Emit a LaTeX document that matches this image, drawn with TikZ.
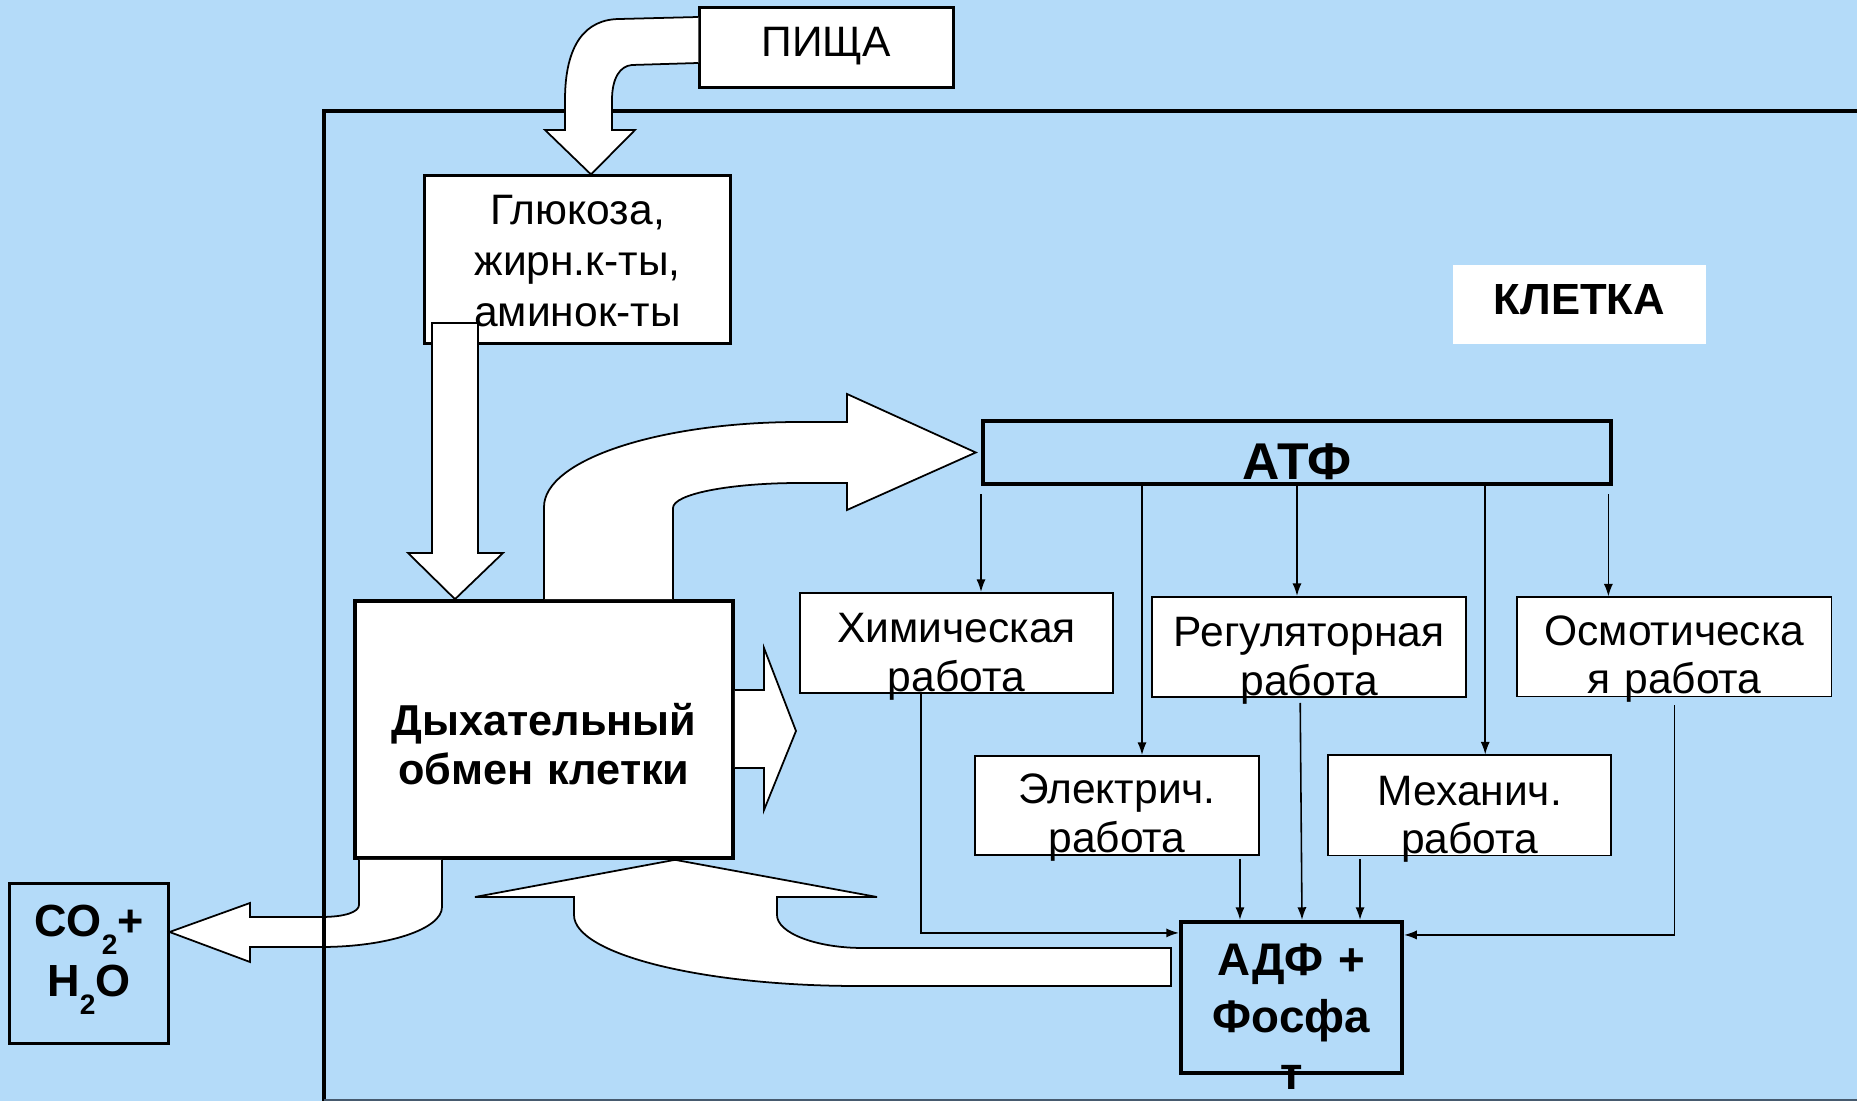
\documentclass[tikz,border=0pt]{standalone}
\usepackage{fontspec}
\setmainfont{Liberation Sans}
\usetikzlibrary{positioning, arrows.meta}

\definecolor{bgblue}{RGB}{180,219,249}
\definecolor{edgegray}{RGB}{70,90,110}
\newcommand{\chemidx}[1]{\raisebox{-0.4em}{\fontsize{8}{8}\selectfont #1}}

\begin{document}
\begin{tikzpicture}[x=0.01cm, y=-0.01cm, node distance=3.525cm, >={Latex[length=3.6pt,width=2.6pt]}]
            % Define block styles
            \tikzstyle{block} = [rectangle, draw, fill=white, inner sep=0pt, align=center, line width=0.85pt]
            \tikzstyle{plain} = [font=\fontsize{12.1}{14.5}\selectfont]
            \tikzstyle{heavy} = [font=\bfseries\fontsize{12.8}{16.2}\selectfont]
            \tikzstyle{workbox} = [block, plain, line width=0.55pt, font=\fontsize{12.1}{13.7}\selectfont, text height=0.5cm, text depth=0.5cm]
            \tikzstyle{bigarrow} = [draw, fill=white, line width=0.5pt]
            \tikzstyle{link} = [->, line width=0.45pt]

            \useasboundingbox[fill=bgblue] (0,0) rectangle (1857,1101);

            % Place nodes
            \node [block, plain, text width=2.53cm, text height=0.49cm, text depth=0.30cm] (food) at (826.5,47.5) {ПИЩА};
            \node [block, plain, text width=3.05cm, text height=0.49cm, text depth=1.18cm] (nutr) at (577.5,259.5) {Глюкоза,\\ жирн.к-ты,\\ аминок-ты};
            \node [block, line width=1pt, font=\bfseries\fontsize{12.3}{13.7}\selectfont, text width=3.78cm, text height=1.35cm, text depth=1.22cm] (resp) at (544,729.5) {Дыхательный\\ обмен клетки};
            \node [block, fill=none, line width=1.15pt, font=\bfseries\fontsize{14.7}{16}\selectfont, text width=6.28cm, text height=0.58cm, text depth=0.05cm] (atp) at (1297,452.5) {АТФ};
            \node [workbox, text width=3.13cm] (chem) at (956.5,643) {Химическая\\ работа};
            \node [workbox, text width=3.14cm, right of=chem, yshift=-0.04cm] (reg) {Регуляторная\\ работа};
            \node [workbox, text width=3.14cm, right of=reg, xshift=0.125cm, text height=0.48cm, text depth=0.51cm] (osm) {Осмотическа\\ я работа};
            \node [workbox, text width=2.84cm, text height=0.48cm, text depth=0.51cm] (elec) at (1117,805.5) {Электрич.\\ работа};
            \node [workbox, text width=2.83cm, right of=elec] (mech) {Механич.\\ работа};
            \node [block, heavy, fill=none, line width=1.15pt, font=\bfseries\fontsize{13}{16.2}\selectfont, text width=2.21cm, text height=0.54cm, text depth=0.97cm] (adp) at (1291.5,997.5) {АДФ +\\ Фосфа\\ т};
            \node [block, heavy, fill=none, font=\bfseries\fontsize{12.8}{17}\selectfont, text width=1.58cm, text height=0.53cm, text depth=1.06cm] (waste) at (89,963.5) {CO\chemidx{2}+\\ H\chemidx{2}O};
            \node [heavy, fill=white, inner sep=0pt, minimum width=2.53cm, font=\bfseries\fontsize{12.4}{16}\selectfont, text height=0.5cm, text depth=0.29cm] (cell) at (1579.5,304.5) {КЛЕТКА};

            % Draw the big arrows
            \draw [bigarrow] (432,323) -- (478,323) -- (478,553) -- (503,553) -- (resp.north -| 455,0) -- (408,553) -- (432,553) -- cycle;
            \draw [bigarrow] (resp.north -| 544,0) -- (544,507) .. controls (544,460) and (659,422) .. (800,422) -- (847,422) -- (847,394) -- ([xshift=-0.05cm]atp.west) -- (847,510) -- (847,483) -- (800,483) .. controls (730,483) and (673,494) .. (673,508) -- (resp.north -| 673,0);
            \draw [bigarrow] (resp.east |- 0,690) -- (764,690) -- (764,648) -- (796,731) -- (764,810) -- (764,768) -- (resp.east |- 0,768);
            \draw [bigarrow] (resp.south -| 359,0) -- (359,905) .. controls (359,912) and (345,917) .. (321,917) -- (250,917) -- (250,903) -- (waste.east |- 0,932) -- (250,962) -- (250,947) -- (321,947) .. controls (388,947) and (442,929) .. (442,907) -- (resp.south -| 442,0);
            \draw [bigarrow] (resp.south -| 675,0) -- (877,897) -- (777,897) -- (777,915) .. controls (777,933) and (816,948) .. (863,948) -- (1171,948) -- (1171,986) -- (858,986) .. controls (702,986) and (574,954) .. (574,915) -- (574,897) -- (475,897) -- cycle;

            % Cell wall
            \draw [line width=1.3pt] (1870,111) -| (324,1110);
            \draw [edgegray, line width=0.6pt] (324,1100) -- (1870,1100);

            \draw [bigarrow] (food.west |- 0,63) -- (632,65) .. controls (620,66) and (612,78) .. (612,100) -- (612,130) -- (635,130) -- (nutr.north -| 591,0) -- (545,130) -- (565,130) -- (565,100) .. controls (565,45) and (585,19) .. (620,19) -- (food.west |- 0,17);

            % Draw connections as arrows
            \coordinate (tochem) at ([xshift=0.245cm]chem.north);
            \coordinate (toelec) at ([xshift=0.25cm]elec.north);
            \coordinate (tomech) at ([xshift=0.155cm]mech.north);
            \coordinate (toosm) at ([xshift=-0.66cm]osm.north);
            \draw [link, shorten <=0.08cm] (tochem |- atp.south) -- (tochem);
            \draw [link] (toelec |- atp.south) -- (toelec);
            \draw [link] (atp.south) -- (atp.south |- reg.north);
            \draw [link] (tomech |- atp.south) -- (tomech);
            \draw [link, shorten <=0.08cm] (toosm |- atp.south) -- (toosm);

            \coordinate (fromelec) at ([xshift=-0.515cm]adp.north);
            \coordinate (frommech) at ([xshift=0.685cm]adp.north);
            \draw [link] ([xshift=-0.355cm]chem.south) |- ([yshift=-0.13cm]adp.north west);
            \draw [link, shorten <=0.03cm] (fromelec |- elec.south) -- (fromelec);
            \draw [link] ([xshift=-0.09cm,yshift=-0.05cm]reg.south) -- ([xshift=0.105cm]adp.north);
            \draw [link, shorten <=0.03cm] (frommech |- mech.south) -- (frommech);
            \draw [link] ([yshift=-0.08cm]osm.south) |- ([yshift=-0.15cm]adp.north east);

\end{tikzpicture}
\end{document}
